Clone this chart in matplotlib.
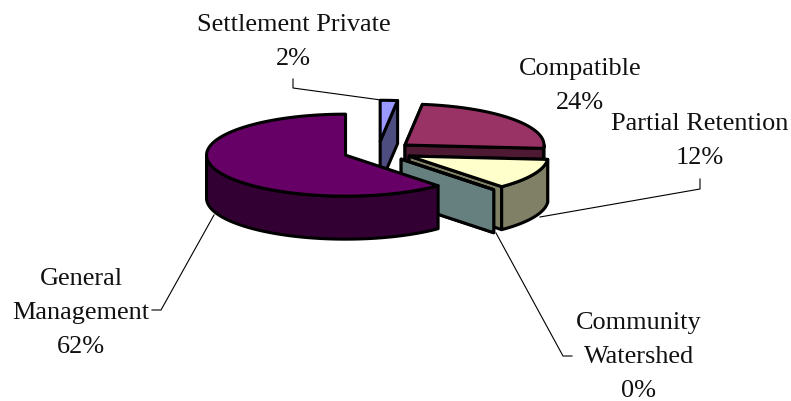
import matplotlib
matplotlib.use('Agg')
import matplotlib.pyplot as plt
from matplotlib.patches import Polygon
import numpy as np

labels = ['Settlement Private', 'Compatible', 'Partial Retention', 'Community\nWatershed', 'General\nManagement']
values = [2.0, 24.3, 12.1, 0.0, 61.6]

top_colors = ['#9999FF', '#993366', '#FFFFCC', '#CCFFFF', '#660066']
side_colors = ['#4D4D80', '#4D1933', '#808066', '#668080', '#330033']

# where the label text sits (centre x, centre y of first line), in pixels
label_pos = [(293.5, 25), (580, 69), (700, 124), (639, 323), (81, 279)]
line_step = 34

leaders = [
    [(293, 80), (293, 89), (381, 101)],
    [(700, 180), (700, 190), (540, 218)],
    [(152, 311), (161, 311), (214, 216)],
    [(572, 357), (563, 357), (496, 234)],
]

# pie geometry
cx, cy = 378, 152.5
rx, ry = 139, 41
depth = 43
explode = 0.25

plt.rcParams['font.family'] = ['Liberation Serif', 'DejaVu Serif']

fig = plt.figure(figsize=(7.91, 4.02), dpi=100)
ax = fig.add_axes([0, 0, 1, 1])
ax.set_xlim(0, 791)
ax.set_ylim(402, 0)
ax.axis('off')


def rim(deg, ox, oy):
    t = np.radians(deg)
    return np.column_stack([ox + rx * np.sin(t), oy - ry * np.cos(t)])


def face(pts, color, z):
    ax.add_patch(Polygon(pts, closed=True, facecolor=color, edgecolor='black',
                         linewidth=2.2, joinstyle='round', zorder=z))


for line in leaders:
    xs, ys = zip(*line)
    ax.plot(xs, ys, color='black', linewidth=0.8, zorder=1)

drop = np.array([0, depth])
total = sum(values)
start = 0.0
z = 2
for val, top, side in zip(values, top_colors, side_colors):
    end = start + 360.0 * val / total
    mid = np.radians((start + end) / 2)
    ox = cx + explode * rx * np.sin(mid)
    oy = cy - explode * ry * np.cos(mid)
    apex = np.array([ox, oy])

    # flat cut faces first
    if val < 50:
        for ang in (start, end):
            p = rim(ang, ox, oy)[0]
            face([apex, p, p + drop, apex + drop], side, z)

    # outer wall, only the part facing the viewer
    a0, a1 = max(start, 90), min(end, 270)
    if a1 > a0:
        arc = rim(np.linspace(a0, a1, 80), ox, oy)
        face(np.vstack([arc, (arc + drop)[::-1]]), side, z)

    # top of the slice
    arc = rim(np.linspace(start, end, 160), ox, oy)
    face(np.vstack([apex, arc]), top, z)
    z += 1
    start = end

for name, val, (x, y) in zip(labels, values, label_pos):
    for i, row in enumerate(name.split('\n') + ['%.0f%%' % val]):
        ax.text(x, y + i * line_step, row, ha='center', va='center',
                fontsize=18.9, color='#111111', zorder=20)

fig.savefig('out.png', dpi=100, facecolor='white')
